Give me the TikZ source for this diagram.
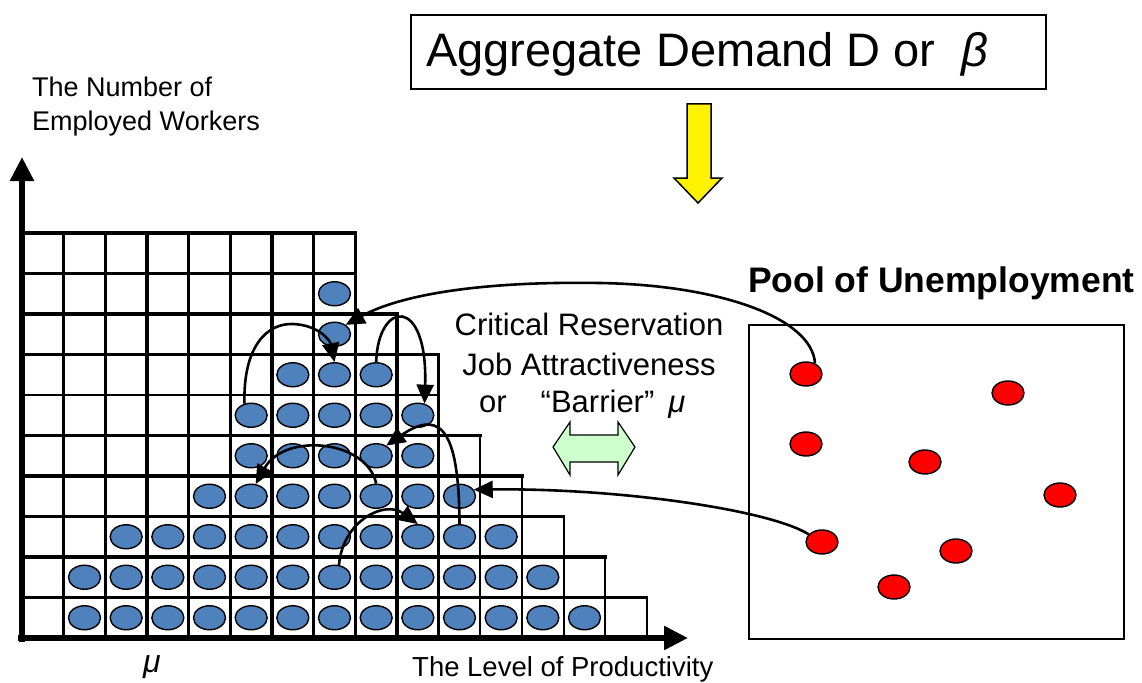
\documentclass[tikz,border=0pt]{standalone}
\usepackage{fontspec}
\setmainfont{Liberation Sans}
\usetikzlibrary{arrows.meta,shapes.geometric}
\definecolor{dotblue}{RGB}{79,129,189}
\definecolor{palegreen}{RGB}{204,255,204}
\begin{document}
\begin{tikzpicture}[x=1pt,y=-1pt,
  bdot/.style={ellipse,draw=black,line width=1.4pt,fill=dotblue,minimum width=32pt,minimum height=24pt,inner sep=0pt},
  rdot/.style={ellipse,draw=black,line width=1.4pt,fill=red,minimum width=32pt,minimum height=24pt,inner sep=0pt},
  conn/.style={line width=2.6pt,-{Triangle[length=19pt,width=17pt]}},
  axis/.style={line width=5.5pt,-{Triangle[length=24pt,width=23pt]}},
  gridline/.style={line width=#1,line cap=rect},
  lbl/.style={inner sep=0pt}
]
\useasboundingbox (0,0) rectangle (1142,682);
% grid: horizontal lines (top of row j, width w columns)
\foreach \j/\w/\lw in {1/15/2.2pt,2/14/3.4pt,3/13/2.2pt,4/12/3.4pt,5/11/3.4pt,6/10/2.4pt,7/10/3.4pt,8/9/3.4pt,9/8/3.4pt,10/8/3.4pt}
  \draw[gridline=\lw] (22,{638-\j*40.5}) -- ({22+\w*41.6667},{638-\j*40.5});
% grid: vertical lines (column boundary k, up to row h)
\foreach \k/\h/\lw in {1/10/3.4pt,2/10/2.6pt,3/10/3.4pt,4/10/2.6pt,5/10/3.4pt,6/10/3.4pt,7/10/3.4pt,8/10/3.4pt,9/8/3.4pt,10/7/2.6pt,11/5/2.2pt,12/4/2.2pt,13/3/2.2pt,14/2/2.2pt,15/1/2.2pt}
  \draw[gridline=\lw] ({22+\k*41.6667},638) -- ({22+\k*41.6667},{638-\h*40.5});
% axes
\draw[axis] (22,642) -- (22,157);
\draw[axis] (18,638) -- (688,638);
% blue dots
\foreach \r/\a/\b in {1/2/14,2/2/13,3/3/12,4/5/11,5/6/10,6/6/10,7/7/9,8/8/8,9/8/8}
  \foreach \c in {\a,...,\b}
    \node[bdot] (b-\r-\c) at ({22+(\c-0.5)*41.6667},{638-(\r-0.5)*40.5}) {};
% aggregate demand box
\node[draw,line width=2pt,minimum width=635pt,minimum height=74pt,anchor=north west,inner sep=0pt] (agg) at (410,14) {};
\node[lbl,anchor=base west,font=\fontsize{47}{56}\selectfont] (aggtext) at (426,67) {Aggregate Demand D or~~{\itshape β}};
% yellow arrow
\filldraw[fill=yellow,draw=black,line width=1.5pt] (687,104) -- (711,104) -- (711,178) -- (722,178) -- (698,203) -- (674,178) -- (687,178) -- cycle;
% left axis label
\node[lbl,anchor=base west,font=\fontsize{27}{33}\selectfont] (ylab1) at (32,97) {The Number of};
\node[lbl,anchor=base west,font=\fontsize{27}{33}\selectfont] (ylab2) at (32,130) {Employed Workers};
% bottom labels
\node[lbl,anchor=base west,font=\itshape\fontsize{32}{38}\selectfont] (mu) at (143,672) {μ};
\node[lbl,anchor=base west,font=\fontsize{27.5}{33}\selectfont] (xlab) at (412,676) {The Level of Productivity};
% critical text
\node[lbl,anchor=base,font=\fontsize{31}{38}\selectfont] (crit1) at (589,335) {Critical Reservation};
\node[lbl,anchor=base,font=\fontsize{31}{38}\selectfont] (crit2) at (589,375) {Job Attractiveness};
\node[lbl,anchor=base west,font=\fontsize{31}{38}\selectfont] (crit3) at (479,412) {or\hspace{34pt}“Barrier”\hspace{14pt}{\itshape μ}};
% double arrow
\filldraw[fill=palegreen,draw=black,line width=1.2pt] (553,447) -- (570,422) -- (570,435) -- (618,435) -- (618,422) -- (635,447) -- (618,475) -- (618,462) -- (570,462) -- (570,475) -- cycle;
% pool
\node[lbl,anchor=base west,font=\bfseries\fontsize{35.5}{40}\selectfont] (pooltitle) at (748,292) {Pool of Unemployment};
\node[draw,line width=2pt,minimum width=375pt,minimum height=314pt,anchor=north west,inner sep=0pt] (pool) at (748,324) {};
\node[rdot] (p1) at (806,374) {};
\node[rdot] (p2) at (1008,393) {};
\node[rdot] (p3) at (806,444) {};
\node[rdot] (p4) at (925,462) {};
\node[rdot] (p5) at (1060,495) {};
\node[rdot] (p6) at (822,542) {};
\node[rdot] (p7) at (956,551) {};
\node[rdot] (p8) at (894,587) {};
% connectors
\draw[conn] (p1.50) .. controls (812,318) and (720,285) .. (600,283) .. controls (480,281) and (400,295) .. (b-8-8.40);
\draw[conn] (p6.150) .. controls (770,510) and (620,488) .. (b-4-11.25);
\draw[conn] (b-6-6.120) .. controls (243,345) and (268,323) .. (293,324) .. controls (318,325) and (330,340) .. (b-7-8.north);
\draw[conn] (b-7-9.north) .. controls (378,300) and (428,295) .. (b-6-10.60);
\draw[conn] (b-3-11.north) .. controls (459,440) and (445,405) .. (b-5-9.45);
\draw[conn] (b-4-9.north) .. controls (367,440) and (285,432) .. (b-4-6.70);
\draw[conn] (b-2-8.70) .. controls (343,520) and (385,500) .. (b-3-10.north);
\end{tikzpicture}
\end{document}
